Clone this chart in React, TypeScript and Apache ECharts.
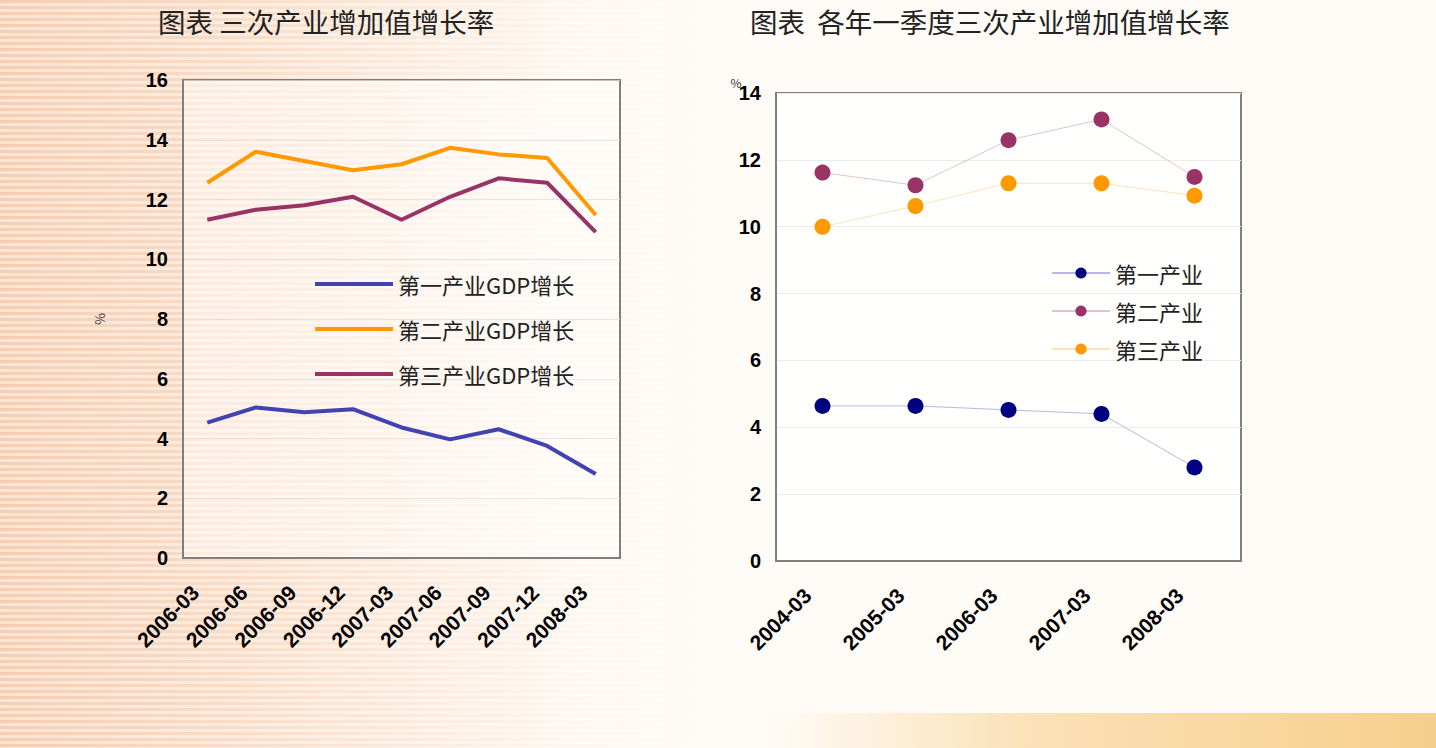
import React, { useEffect, useRef } from "react";
import * as echarts from "echarts";

// Left chart: quarterly growth (%)
const quarterCats = ["2006-03", "2006-06", "2006-09", "2006-12", "2007-03", "2007-06", "2007-09", "2007-12", "2008-03"];
const primaryQ = [4.53, 5.04, 4.88, 4.98, 4.37, 3.97, 4.31, 3.75, 2.81];
const secondaryQ = [12.56, 13.6, 13.29, 12.98, 13.18, 13.73, 13.51, 13.39, 11.48];
const tertiaryQ = [11.32, 11.66, 11.81, 12.09, 11.32, 12.09, 12.71, 12.56, 10.91];
const leftNames = ["第一产业GDP增长", "第二产业GDP增长", "第三产业GDP增长"];

// Right chart: first-quarter growth of each year (%)
const yearCats = ["2004-03", "2005-03", "2006-03", "2007-03", "2008-03"];
const primaryY = [4.64, 4.64, 4.52, 4.4, 2.8];
const secondaryY = [11.62, 11.24, 12.59, 13.21, 11.49];
const tertiaryY = [10.0, 10.62, 11.3, 11.3, 10.93];
const rightNames = ["第一产业", "第二产业", "第三产业"];

const leftTitle = "图表 三次产业增加值增长率";
const rightTitle = "图表  各年一季度三次产业增加值增长率";

const CJK = '"Noto Sans CJK SC", "Noto Sans", sans-serif';
const ARIAL = '"Liberation Sans", Arial, sans-serif';

export default function App() {
  const ref = useRef<HTMLDivElement>(null);

  useEffect(() => {
    document.body.style.margin = "0";
    const chart = echarts.init(ref.current!, null, { renderer: "svg" });

    const axisLabelY = { fontFamily: ARIAL, fontWeight: "bold", fontSize: 20, color: "#000", margin: 15 };
    const axisLabelXL = { fontFamily: ARIAL, fontWeight: "bold", fontSize: 21, color: "#000", rotate: 45, margin: 19, interval: 0, padding: [0, 17, 0, 0] };
    const axisLabelXR = { fontFamily: ARIAL, fontWeight: "bold", fontSize: 21, color: "#000", rotate: 45, margin: 16, interval: 0, padding: [0, 21, 0, 0] };

    chart.setOption({
      animation: false,
      backgroundColor: "transparent",
      grid: [
        {
          left: 183, top: 80, width: 437, height: 478,
          show: true, borderColor: "#7f7f7f", borderWidth: 2,
          backgroundColor: "rgba(255,255,255,0.45)",
        },
        {
          left: 776, top: 93, width: 465, height: 468,
          show: true, borderColor: "#7f7f7f", borderWidth: 2,
          backgroundColor: "rgba(255,255,255,0.85)",
        },
      ],
      xAxis: [
        {
          type: "category", gridIndex: 0, data: quarterCats, boundaryGap: true,
          axisLine: { lineStyle: { color: "#7f7f7f", width: 2 } },
          axisTick: { inside: true, length: 6, lineStyle: { color: "#7f7f7f" } },
          axisLabel: axisLabelXL,
        },
        {
          type: "category", gridIndex: 1, data: yearCats, boundaryGap: true,
          axisLine: { lineStyle: { color: "#7f7f7f", width: 2 } },
          axisTick: { inside: true, length: 6, lineStyle: { color: "#7f7f7f" } },
          axisLabel: axisLabelXR,
        },
      ],
      yAxis: [
        {
          type: "value", gridIndex: 0, min: 0, max: 16, interval: 2,
          axisLine: { show: true, lineStyle: { color: "#7f7f7f", width: 2 } },
          axisTick: { show: false },
          splitLine: { lineStyle: { color: "rgba(230,220,210,0.7)" } },
          axisLabel: axisLabelY,
        },
        {
          type: "value", gridIndex: 1, min: 0, max: 14, interval: 2,
          axisLine: { show: true, lineStyle: { color: "#7f7f7f", width: 2 } },
          axisTick: { show: false },
          splitLine: { lineStyle: { color: "#ebebeb" } },
          axisLabel: axisLabelY,
        },
      ],
      legend: [
        {
          data: leftNames, orient: "vertical", left: 310, top: 268,
          icon: "rect", itemWidth: 78, itemHeight: 4, itemGap: 23,
          textStyle: { fontFamily: CJK, fontSize: 22, lineHeight: 22, color: "#222" },
        },
        {
          data: rightNames, orient: "vertical", left: 1046, top: 257,
          itemWidth: 58, itemHeight: 14, itemGap: 16,
          textStyle: { fontFamily: CJK, fontSize: 22, lineHeight: 22, color: "#222" },
        },
      ],
      graphic: [
        { type: "text", x: 158, y: 21, style: { text: leftTitle, font: `27.5px ${CJK}`, fill: "#222", verticalAlign: "middle" } },
        { type: "text", x: 750, y: 21, style: { text: rightTitle, font: `27.5px ${CJK}`, fill: "#222", verticalAlign: "middle" } },
        { type: "text", x: 100, y: 319, rotation: -Math.PI / 2, style: { text: "%", font: `13px ${CJK}`, fill: "#333", align: "center", verticalAlign: "middle" } },
        { type: "text", x: 736, y: 82, style: { text: "%", font: `12px ${CJK}`, fill: "#333", align: "center", verticalAlign: "middle" } },
      ],
      series: [
        { name: leftNames[0], type: "line", xAxisIndex: 0, yAxisIndex: 0, data: primaryQ, symbol: "none", color: "#4242b0", lineStyle: { width: 4 } },
        { name: leftNames[1], type: "line", xAxisIndex: 0, yAxisIndex: 0, data: secondaryQ, symbol: "none", color: "#ff9900", lineStyle: { width: 4 } },
        { name: leftNames[2], type: "line", xAxisIndex: 0, yAxisIndex: 0, data: tertiaryQ, symbol: "none", color: "#993366", lineStyle: { width: 4 } },
        { name: rightNames[0], type: "line", xAxisIndex: 1, yAxisIndex: 1, data: primaryY, symbol: "circle", symbolSize: 16, color: "#000080", lineStyle: { width: 1, color: "#b8b8e6" } },
        { name: rightNames[1], type: "line", xAxisIndex: 1, yAxisIndex: 1, data: secondaryY, symbol: "circle", symbolSize: 16, color: "#993366", lineStyle: { width: 1, color: "#e2c2d0" } },
        { name: rightNames[2], type: "line", xAxisIndex: 1, yAxisIndex: 1, data: tertiaryY, symbol: "circle", symbolSize: 16, color: "#ff9900", lineStyle: { width: 1, color: "#ffe2b8" } },
      ],
    });

    return () => chart.dispose();
  }, []);

  return (
    <div
      style={{
        position: "fixed", left: 0, top: 0, width: 1436, height: 748, overflow: "hidden",
        background:
          "linear-gradient(to right, rgba(255,253,249,0) 0px, rgba(255,253,249,0.35) 250px, rgba(255,253,249,0.85) 560px, #fffcf8 720px), " +
          "repeating-linear-gradient(to bottom, #f6cdb0 0px, #f6cdb0 3px, #fbe4d3 3px, #fbe4d3 6px)",
      }}
    >
      <div
        style={{
          position: "absolute", left: 760, top: 713, width: 676, height: 35,
          background: "linear-gradient(to right, rgba(247,207,140,0) 0%, rgba(247,207,140,0.6) 40%, #f7cf8c 100%)",
        }}
      />
      <div ref={ref} style={{ position: "absolute", left: 0, top: 0, width: 1436, height: 748 }} />
    </div>
  );
}
